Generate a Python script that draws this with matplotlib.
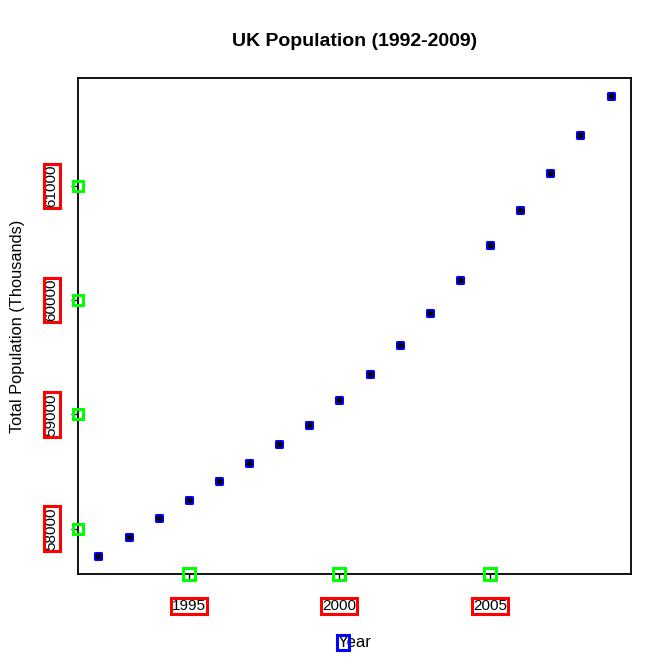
import matplotlib
matplotlib.use('Agg')
import matplotlib.pyplot as plt
from matplotlib.patches import Rectangle
from matplotlib.markers import MarkerStyle
from matplotlib.transforms import Bbox

plt.rcParams['font.family'] = ['Liberation Sans', 'DejaVu Sans']

# data
years = [1992, 1993, 1994, 1995, 1996, 1997, 1998, 1999, 2000,
         2001, 2002, 2003, 2004, 2005, 2006, 2007, 2008, 2009]
population = [57763, 57924, 58096, 58248, 58415, 58572, 58739, 58905, 59127,
              59355, 59607, 59887, 60179, 60483, 60792, 61114, 61444, 61783]
x_ticks = [1995, 2000, 2005]
y_ticks = [58000, 59000, 60000, 61000]

fig = plt.figure(figsize=(6.72, 6.72), dpi=100)
ax = fig.add_axes([78 / 672, 98 / 672, 553 / 672, 496 / 672])


# R style axis range: data range plus 4 percent each side
def r_range(vals):
    lo, hi = min(vals), max(vals)
    pad = (hi - lo) * 0.04
    return lo - pad, hi + pad


ax.set_xlim(r_range(years))
ax.set_ylim(r_range(population))

# points: blue rounded squares with a black centre
sq = MarkerStyle('s', joinstyle='round')
ax.plot(years, population, linestyle='none', marker=sq, markersize=5,
        markerfacecolor='blue', markeredgecolor='blue', markeredgewidth=2.2)
ax.plot(years, population, linestyle='none', marker='s', markersize=2.5,
        color='black')

for s in ax.spines.values():
    s.set_linewidth(1.3)

ax.set_xticks(x_ticks)
ax.set_yticks(y_ticks)
ax.set_xticklabels([str(v) for v in x_ticks])
ax.set_yticklabels([str(v) for v in y_ticks], rotation=90, va='center')
ax.tick_params(axis='both', direction='out', length=5, width=1, labelsize=11)
ax.tick_params(axis='x', pad=13)
ax.tick_params(axis='y', pad=9)

ax.set_xlabel('Year', fontsize=12)
ax.set_ylabel('Total Population (Thousands)', fontsize=11.8)
ax.xaxis.set_label_coords(0.5, -0.139)
ax.yaxis.set_label_coords(-0.11, 0.5)
ax.xaxis.label.set_va('center')
ax.yaxis.label.set_va('center')

fig.text((78 + 553 / 2) / 672, 1 - 41 / 672, 'UK Population (1992-2009)',
         ha='center', va='center', fontsize=14, fontweight='bold')

# green hollow squares on the tick positions
x0, x1 = ax.get_xlim()
y0, y1 = ax.get_ylim()
ax.plot(x_ticks, [y0] * len(x_ticks), linestyle='none', marker='s',
        markersize=8, markerfacecolor='none', markeredgecolor='#00ff00',
        markeredgewidth=2.2, clip_on=False, zorder=5)
ax.plot([x0] * len(y_ticks), y_ticks, linestyle='none', marker='s',
        markersize=7.5, markerfacecolor='none', markeredgecolor='#00ff00',
        markeredgewidth=2.2, clip_on=False, zorder=5)

# red boxes round the tick labels, blue box round the first letter of "Year"
fig.canvas.draw()
renderer = fig.canvas.get_renderer()
inv = fig.transFigure.inverted()


def box(bb, color, padx=1, pady=1):
    (fx0, fy0) = inv.transform((bb.x0 - padx, bb.y0 - pady))
    (fx1, fy1) = inv.transform((bb.x1 + padx, bb.y1 + pady))
    fig.add_artist(Rectangle((fx0, fy0), fx1 - fx0, fy1 - fy0, fill=False,
                             edgecolor=color, linewidth=2.2,
                             transform=fig.transFigure))


for lab in ax.get_xticklabels() + ax.get_yticklabels():
    if lab.get_visible() and lab.get_text():
        box(lab.get_window_extent(renderer), 'red')

xl = ax.xaxis.label
xl_bb = xl.get_window_extent(renderer)
tmp = fig.text(0, 0, 'Y', fontsize=12)
y_w = tmp.get_window_extent(renderer).width
tmp.remove()
box(Bbox.from_extents(xl_bb.x0, xl_bb.y0, xl_bb.x0 + y_w, xl_bb.y1), 'blue', 0.5, 0)

fig.savefig('out.png', dpi=100)
